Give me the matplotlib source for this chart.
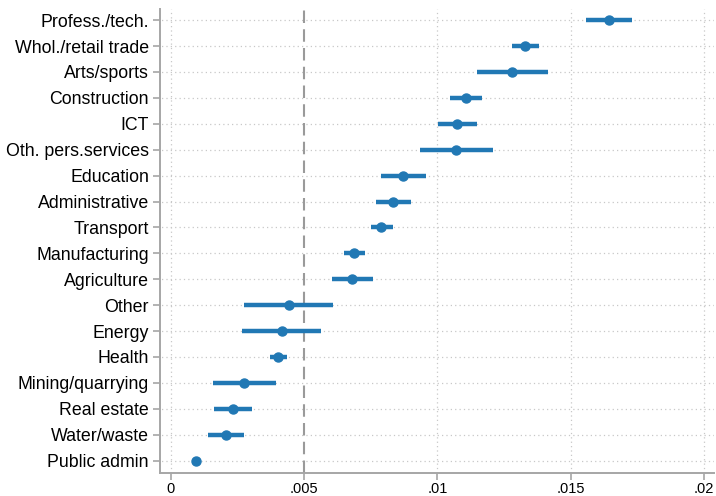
import matplotlib
matplotlib.use("Agg")
import matplotlib.pyplot as plt

sectors = ["Profess./tech.", "Whol./retail trade", "Arts/sports", "Construction", "ICT",
           "Oth. pers.services", "Education", "Administrative", "Transport", "Manufacturing",
           "Agriculture", "Other", "Energy", "Health", "Mining/quarrying", "Real estate",
           "Water/waste", "Public admin"]
coef = [0.01645, 0.01329, 0.01281, 0.01107, 0.01073, 0.01071, 0.00870, 0.00834, 0.00790,
        0.00688, 0.00680, 0.00442, 0.00415, 0.00401, 0.00275, 0.00234, 0.00207, 0.00095]
ci_lo = [0.01557, 0.01279, 0.01148, 0.01048, 0.01001, 0.00934, 0.00787, 0.00770, 0.00749,
         0.00649, 0.00603, 0.00275, 0.00268, 0.00370, 0.00158, 0.00163, 0.00140, 0.00090]
ci_hi = [0.01732, 0.01380, 0.01414, 0.01166, 0.01147, 0.01209, 0.00956, 0.00900, 0.00833,
         0.00727, 0.00757, 0.00609, 0.00563, 0.00434, 0.00394, 0.00304, 0.00276, 0.00100]
xticks = [0, 0.005, 0.01, 0.015, 0.02]
xtick_labels = ["0", ".005", ".01", ".015", ".02"]
ref_line = 0.005

plt.rcParams["font.family"] = ["Liberation Sans", "DejaVu Sans"]
blue = "#2178b4"
grid_c = "#c8c8c8"
spine_c = "#a6a6a6"

fig = plt.figure(figsize=(7.16, 4.96), dpi=100)
ax = fig.add_axes([160/716, 1 - 473.3/496, (714 - 160)/716, (473.3 - 9)/496])

ypos = list(range(len(sectors)))
for y in ypos:
    ax.plot([-0.001, 0.021], [y, y], ls=(0, (1, 2.5)), color=grid_c, lw=0.9, zorder=0)
for xv in xticks:
    if xv != ref_line:
        ax.axvline(xv, ls=(0, (1, 2.5)), color=grid_c, lw=0.9, zorder=0)
ax.axvline(ref_line, ls=(0, (6, 3)), color="#9a9a9a", lw=1.5, zorder=1)

for y, c, lo, hi in zip(ypos, coef, ci_lo, ci_hi):
    ax.plot([lo, hi], [y, y], color=blue, lw=3.2, solid_capstyle="butt", zorder=2)
ax.plot(coef, ypos, "o", color=blue, ms=6.5, zorder=3)

ax.set_xlim(-0.00041, 0.02038)
ax.set_ylim(17.49, -0.43)
ax.set_yticks(ypos)
ax.set_yticklabels(sectors, fontsize=12.8)
ax.set_xticks(xticks)
ax.set_xticklabels(xtick_labels, fontsize=10.5)
for s in ["top", "right"]:
    ax.spines[s].set_visible(False)
for s in ["left", "bottom"]:
    ax.spines[s].set_color(spine_c)
    ax.spines[s].set_linewidth(1.4)
ax.tick_params(axis="both", colors=spine_c, labelcolor="black", width=1.2, length=5)
ax.tick_params(axis="y", pad=3)
ax.tick_params(axis="x", length=5, pad=1)

fig.savefig("out.png", dpi=100)
